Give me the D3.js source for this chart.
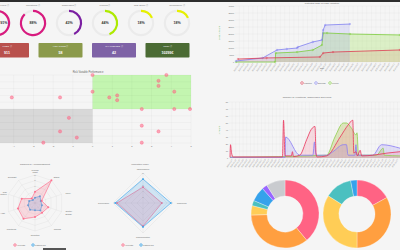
<!DOCTYPE html>
<html><head><meta charset="utf-8">
<script src="https://cdn.jsdelivr.net/npm/d3@7"></script>
<style>
body{margin:0;background:#f5f5f5;overflow:hidden}
svg{display:block;font-family:"Liberation Sans",Arial,sans-serif}
</style>
</head><body>
<svg width="400" height="250"></svg>
<script>
// ---------------- DATA ----------------
const gaugeLabels = ["Fines", "Conditions", "Challenges", "Policies", "Risk Score", "Compliance"];
const gaugeValues = [91, 88, 43, 44, 18, 18];
const gaugeColors = ["#d81b7f", "#d81b7f", "#7b1fa2", "#aeea00", "#e6f000", "#e6f000"];

const cardLabels = ["Fines", "Violations", "Challenges", "Cost"];
const cardValues = ["911", "58", "42", "10299€"];
const cardColors = ["#b9514d", "#8b9a4b", "#7e62a6", "#4b6b34"];

const scatterX = [0, 3.75, 3.35, 3.35, 0, 4.15, -4.1, -1.65, 0.85, 1.25, 1.25, 2.5, 4.15, 4.95, -1.2, 2.5, -1.65, 3.35, -0.8, -2.5, 2.5];
const scatterY = [5, 5, 4.15, 3.4, 2.55, 2.55, 1.7, 1.7, 1.7, 2.0, 1.3, 0, 0, 0, -1.3, -2.45, -3.3, -3.3, -4.2, -4.95, -4.95];
const scatterTicks = [-4, -3, -2, -1, 0, 1, 2, 3, 4, 5];

const lossSeriesNames = ["Liabilities", "Earnings", "Policies"];
const lossLiabilities = [["2019-01-04", 2100], ["2019-02-17", 2900], ["2019-05-10", 3600], ["2019-05-15", 6400], ["2019-05-30", 7100], ["2019-09-10", 8600]];
const lossEarnings = [["2019-01-01", 700], ["2019-02-11", 2900], ["2019-03-05", 8600], ["2019-03-20", 9300], ["2019-04-05", 10000], ["2019-04-06", 10700], ["2019-04-29", 14300], ["2019-05-13", 15700], ["2019-05-15", 22900], ["2019-05-18", 26400], ["2019-06-25", 27100]];
const lossPolicies = [["2019-01-01", 0], ["2019-03-02", 0], ["2019-03-03", 6400], ["2019-04-05", 7100], ["2019-04-29", 8600], ["2019-05-13", 12100], ["2019-05-15", 20700], ["2019-05-21", 20700], ["2019-06-25", 20000], ["2019-09-10", 19300]];
const lossTicks = [0, 5000, 10000, 15000, 20000, 25000, 30000, 35000, 40000];

const vioSeriesNames = ["Violations", "Challenges", "Fines"];
const vioViolations = [["2020-01-01", 1], ["2020-01-02", 19], ["2020-01-04", 7], ["2020-01-07", 1.5], ["2020-04-10", 1.5], ["2020-04-12", 54], ["2020-04-15", 3], ["2020-04-27", 3], ["2020-04-29", 9], ["2020-05-01", 2], ["2020-05-13", 4], ["2020-05-26", 26], ["2020-06-04", 41], ["2020-06-11", 45], ["2020-06-13", 7], ["2020-06-15", 1.5], ["2020-07-03", 3], ["2020-07-29", 30], ["2020-08-13", 47], ["2020-08-22", 54], ["2020-08-24", 7], ["2020-08-28", 9], ["2020-08-31", 3], ["2020-09-05", 11], ["2020-09-08", 3], ["2020-09-29", 4], ["2020-10-26", 7], ["2020-11-20", 9]];
const vioChallenges = [["2020-01-01", 1], ["2020-04-15", 1], ["2020-04-16", 30], ["2020-05-13", 4], ["2020-06-07", 4], ["2020-06-10", 23], ["2020-06-13", 4], ["2020-07-03", 4], ["2020-07-15", 9], ["2020-08-04", 19], ["2020-08-10", 19], ["2020-08-13", 4], ["2020-08-26", 4], ["2020-08-28", 19], ["2020-08-30", 4], ["2020-09-29", 4], ["2020-10-16", 19], ["2020-11-20", 14]];
const vioFines = [["2020-01-01", 1], ["2020-07-03", 4], ["2020-07-19", 30], ["2020-08-04", 50], ["2020-08-10", 50], ["2020-08-20", 42], ["2020-08-28", 33], ["2020-08-30", 36], ["2020-09-02", 4], ["2020-10-06", 4], ["2020-10-19", 14], ["2020-10-21", 4], ["2020-11-20", 3]];
const vioTicks = [0, 10, 20, 30, 40, 50, 60, 70, 80];

const radar1Labels = ["Process Mgmt", "Ethics", "Policy", "Control Design", "Training", "Reporting", "Monitoring", "Audit", "Risk Culture", "Oversight"];
const radar1You = [4, 10, 2.5, 5, 4.3, 5, 7, 6.4, 5, 2];
const radar1Avg = [1.9, 3, 2.2, 2.6, 3.3, 2.6, 3, 2.6, 2.2, 1.3];
const radar2Labels = ["Independence", "Resources", "Communication", "Governance"];
const radar2You = [5.3, 6.3, 7.7, 8.7];
const radar2Avg = [8, 9.3, 8, 9.3];
const radarLegend = ["Your data", "Platform avg"];

const donut1Values = [39, 35.5, 4.5, 2.5, 7, 2.5, 9];
const donut2Values = [17, 33, 34, 13, 3];
const donutColors = ["#ff6384", "#ff9f40", "#ffcd56", "#4bc0c0", "#36a2eb", "#9966ff", "#c9cbcf"];

// ---------------- DRAW ----------------
const svg = d3.select("svg");
const txt = "#666";
svg.append("rect").attr("width", 400).attr("height", 250).attr("fill", "#f5f5f5");
svg.append("rect").attr("width", 400).attr("height", 2).attr("fill", "#2d2d2d");

// keep a text inside the picture horizontally
function clampX(sel) {
  sel.each(function () {
    const b = this.getBBox();
    if (b.x < 0.3) {
      const cur = +this.getAttribute("x") || 0;
      this.setAttribute("x", cur + (0.3 - b.x));
    }
  });
}

// Gauges
const gx = d3.scaleLinear().domain([0, 1]).range([-3, 33]);
const gAngle = d3.scaleLinear().domain([0, 100]).range([0, 2 * Math.PI]);
const gArc = d3.arc().innerRadius(11).outerRadius(13.2);
gaugeValues.forEach((v, i) => {
  const g = svg.append("g").attr("transform", `translate(${gx(i)},23)`);
  g.append("path").attr("d", gArc({startAngle: 0, endAngle: 2 * Math.PI})).attr("fill", "#ebebeb");
  g.append("path").attr("d", gArc({startAngle: 0, endAngle: gAngle(v)})).attr("fill", gaugeColors[i]);
  const t = svg.append("text").attr("x", gx(i)).attr("y", 24.3).attr("text-anchor", "middle").attr("font-size", 3.6)
    .attr("font-weight", "bold").attr("fill", "#333").text(v + "%");
  const l = svg.append("text").attr("x", gx(i)).attr("y", 6).attr("text-anchor", "middle").attr("font-size", 2.4)
    .attr("fill", "#777").text(gaugeLabels[i] + " ⓘ");
  clampX(t); clampX(l);
});

// Cards
const cx = d3.scaleLinear().domain([0, 1]).range([-15, 38.5]);
cardValues.forEach((v, i) => {
  const x0 = cx(i);
  svg.append("rect").attr("x", x0).attr("y", 43).attr("width", 44).attr("height", 14.5).attr("rx", 0.8)
    .attr("fill", cardColors[i]);
  svg.append("text").attr("x", x0 + 22).attr("y", 47).attr("text-anchor", "middle").attr("font-size", 2.2)
    .attr("fill", "#f0f0f0").text(cardLabels[i].toUpperCase() + " ⓘ");
  svg.append("text").attr("x", x0 + 22).attr("y", 53.5).attr("text-anchor", "middle").attr("font-size", 3.6)
    .attr("font-weight", "bold").attr("fill", "#fff").text(v);
});

// Scatter
const sx = d3.scaleLinear().domain([-4.7, 5]).range([0, 191]);
const sy = d3.scaleLinear().domain([-5, 5]).range([143, 75]);
svg.append("text").attr("x", 88).attr("y", 73).attr("text-anchor", "middle").attr("font-size", 2.6)
  .attr("fill", txt).text("Risk Variable Performance");
svg.append("rect").attr("x", sx(-4.7)).attr("y", sy(0)).attr("width", sx(0) - sx(-4.7)).attr("height", sy(-5) - sy(0))
  .attr("fill", "#d8d8d8");
svg.append("rect").attr("x", sx(0)).attr("y", sy(5)).attr("width", sx(5) - sx(0)).attr("height", sy(0) - sy(5))
  .attr("fill", "#c3f5b0");
const sgrid = svg.append("g");
sgrid.selectAll("line.v").data(scatterTicks).join("line").attr("x1", d => sx(d)).attr("x2", d => sx(d))
  .attr("y1", sy(5)).attr("y2", sy(-5) + 1.5).attr("stroke", "rgba(0,0,0,0.08)").attr("stroke-width", 0.4);
sgrid.selectAll("line.h").data(d3.range(-5, 6)).join("line").attr("x1", 0).attr("x2", sx(5))
  .attr("y1", d => sy(d)).attr("y2", d => sy(d)).attr("stroke", "rgba(0,0,0,0.08)").attr("stroke-width", 0.4);
svg.append("g").selectAll("text").data(scatterTicks).join("text").attr("x", d => sx(d)).attr("y", 147)
  .attr("text-anchor", "middle").attr("font-size", 2.2).attr("fill", txt).text(d => d);
svg.append("g").selectAll("circle").data(scatterX).join("circle")
  .attr("cx", d => sx(d)).attr("cy", (d, i) => sy(scatterY[i])).attr("r", 1.6)
  .attr("fill", "rgba(255,99,132,0.55)").attr("stroke", "#ff6384").attr("stroke-width", 0.4);

// Line chart helper
function lineChart(opt) {
  const x = d3.scaleTime().domain(opt.xDomain.map(d => new Date(d))).range(opt.xRange);
  const y = d3.scaleLinear().domain(opt.yDomain).range(opt.yRange);
  const g = svg.append("g");
  const xt = x.ticks(d3.timeWeek.every(1));
  g.selectAll("line.v").data(xt).join("line").attr("x1", d => x(d)).attr("x2", d => x(d))
    .attr("y1", opt.yRange[1]).attr("y2", opt.yRange[0] + 1).attr("stroke", "rgba(0,0,0,0.07)").attr("stroke-width", 0.35);
  g.selectAll("line.h").data(opt.yTicks).join("line").attr("x1", opt.xRange[0] - 1).attr("x2", 400)
    .attr("y1", d => y(d)).attr("y2", d => y(d)).attr("stroke", "rgba(0,0,0,0.07)").attr("stroke-width", 0.35);
  g.selectAll("text.y").data(opt.yTicks).join("text").attr("x", opt.xRange[0] - 2).attr("y", d => y(d) + 0.7)
    .attr("text-anchor", "end").attr("font-size", 2).attr("fill", txt).text(d => d);
  const fmt = d3.timeFormat("%Y-%m-%d");
  g.selectAll("text.x").data(xt).join("text")
    .attr("transform", d => `translate(${x(d) + 0.6},${opt.yRange[0] + 2}) rotate(-55)`)
    .attr("text-anchor", "end").attr("font-size", 1.8).attr("fill", txt).text(d => fmt(d));
  svg.append("text").attr("transform", `translate(${opt.yLabelX},${opt.yLabelY}) rotate(-90)`)
    .attr("text-anchor", "middle").attr("font-size", 2.4).attr("fill", "#4caf50").text(opt.yLabel);
  svg.append("text").attr("x", opt.titleX).attr("y", opt.titleY).attr("text-anchor", "middle")
    .attr("font-size", 2.5).attr("fill", txt).text(opt.title);
  opt.series.forEach(s => {
    const pts = s.data.map(d => [new Date(d[0]), d[1]]);
    const area = d3.area().x(d => x(d[0])).y0(y(0)).y1(d => y(d[1])).curve(opt.curve);
    g.append("path").attr("d", area(pts)).attr("fill", s.fill);
  });
  opt.series.forEach(s => {
    const pts = s.data.map(d => [new Date(d[0]), d[1]]);
    const line = d3.line().x(d => x(d[0])).y(d => y(d[1])).curve(opt.curve);
    g.append("path").attr("d", line(pts)).attr("fill", "none").attr("stroke", s.color).attr("stroke-width", 0.8);
    if (opt.points) g.selectAll(null).data(pts).join("circle").attr("cx", d => x(d[0])).attr("cy", d => y(d[1]))
      .attr("r", 0.8).attr("fill", s.fill).attr("stroke", s.color).attr("stroke-width", 0.4);
  });
  return {x, y};
}

lineChart({
  xDomain: ["2019-01-01", "2019-09-10"], xRange: [236, 400],
  yDomain: [0, 40000], yRange: [62, 6], yTicks: lossTicks,
  yLabel: "Loss Amount", yLabelX: 220, yLabelY: 33,
  title: "Potential Risk of Loss Variation", titleX: 322, titleY: 3.8,
  curve: d3.curveLinear, points: true,
  series: [
    {data: lossPolicies, color: "#7ccc3c", fill: "rgba(160,225,90,0.3)"},
    {data: lossEarnings, color: "#8080f0", fill: "rgba(140,140,250,0.18)"},
    {data: lossLiabilities, color: "#dd3b52", fill: "rgba(220,110,90,0.15)"}
  ]
});
svg.append("text").attr("x", 322).attr("y", 69).attr("text-anchor", "middle").attr("font-size", 2).attr("fill", txt).text("Date");
const lossLegendColors = ["#dd3b52", "#8080f0", "#7ccc3c"];
const lossLegendX = d3.scaleLinear().domain([0, 1]).range([302, 316]);
lossSeriesNames.forEach((n, i) => {
  svg.append("circle").attr("cx", lossLegendX(i)).attr("cy", 83).attr("r", 1.3).attr("fill", "rgba(255,255,255,0.6)")
    .attr("stroke", lossLegendColors[i]).attr("stroke-width", 0.6);
  svg.append("text").attr("x", lossLegendX(i) + 2).attr("y", 83.7).attr("font-size", 1.9).attr("fill", txt).text(n);
});

lineChart({
  xDomain: ["2020-01-01", "2020-11-20"], xRange: [230, 400],
  yDomain: [0, 80], yRange: [158, 102], yTicks: vioTicks,
  yLabel: "Amount", yLabelX: 220, yLabelY: 130,
  title: "Number of Violations, Challenges and Fines", titleX: 307, titleY: 97.5,
  curve: d3.curveMonotoneX, points: false,
  series: [
    {data: vioFines, color: "#8fd14f", fill: "rgba(170,190,60,0.3)"},
    {data: vioChallenges, color: "#8a7cf5", fill: "rgba(140,125,245,0.2)"},
    {data: vioViolations, color: "#e8335a", fill: "rgba(255,99,132,0.18)"}
  ]
});

// Radar helper
function radar(opt) {
  const n = opt.labels.length;
  const r = d3.scaleLinear().domain([0, 10]).range([0, opt.radius]);
  const g = svg.append("g").attr("transform", `translate(${opt.cx},${opt.cy})`);
  const ang = i => i * 2 * Math.PI / n;
  const rl = d3.lineRadial().angle((d, i) => ang(i)).radius(d => r(d)).curve(d3.curveLinearClosed);
  opt.levels.forEach(l => {
    g.append("path").attr("d", rl(opt.labels.map(() => l))).attr("fill", "none")
      .attr("stroke", "rgba(0,0,0,0.1)").attr("stroke-width", 0.35);
  });
  opt.labels.forEach((lab, i) => {
    const a = ang(i);
    g.append("line").attr("x2", r(10) * Math.sin(a)).attr("y2", -r(10) * Math.cos(a))
      .attr("stroke", "rgba(0,0,0,0.1)").attr("stroke-width", 0.35);
    const lx = opt.cx + (r(10) + 4) * Math.sin(a), ly = opt.cy - (r(10) + 4) * Math.cos(a);
    const anchor = Math.abs(Math.sin(a)) < 0.2 ? "middle" : (Math.sin(a) > 0 ? "start" : "end");
    const words = lab.split(" ");
    const t = svg.append("text").attr("x", lx).attr("y", ly + 0.7 - (words.length - 1) * 1.1).attr("text-anchor", anchor)
      .attr("font-size", 2).attr("fill", txt);
    words.forEach((w, k) => t.append("tspan").attr("x", lx).attr("dy", k ? 2.2 : 0).text(w));
    t.each(function () {
      const b = this.getBBox();
      if (b.x < 0.3) {
        const dx = 0.3 - b.x;
        d3.select(this).selectAll("tspan").attr("x", lx + dx);
      }
    });
  });
  opt.levels.forEach(l => {
    g.append("text").attr("x", 0).attr("y", -r(l) + 0.6).attr("text-anchor", "middle")
      .attr("font-size", 1.6).attr("fill", "#888").text(l);
  });
  const sets = [{v: opt.avg, c: "#36a2eb", f: "rgba(54,162,235,0.2)"}, {v: opt.you, c: "#ff6384", f: "rgba(255,99,132,0.2)"}];
  if (opt.youFirst) sets.reverse();
  sets.forEach(s => {
    g.append("path").attr("d", rl(s.v)).attr("fill", s.f).attr("stroke", s.c).attr("stroke-width", 0.6);
    g.selectAll(null).data(s.v).join("circle").attr("cx", (d, i) => r(d) * Math.sin(ang(i)))
      .attr("cy", (d, i) => -r(d) * Math.cos(ang(i))).attr("r", 1).attr("fill", s.c).attr("fill-opacity", 0.8);
  });
  svg.append("text").attr("x", opt.titleX).attr("y", 164.5).attr("text-anchor", "middle").attr("font-size", 2.4)
    .attr("fill", txt).text(opt.title);
  const leg = [["#ff6384", "rgba(255,99,132,0.25)"], ["#36a2eb", "rgba(54,162,235,0.25)"]];
  radarLegend.forEach((name, i) => {
    const lx = opt.legendX[i];
    svg.append("circle").attr("cx", lx).attr("cy", 245).attr("r", 1.3).attr("fill", leg[i][1])
      .attr("stroke", leg[i][0]).attr("stroke-width", 0.6);
    svg.append("text").attr("x", lx + 2).attr("y", 245.7).attr("font-size", 1.9).attr("fill", txt).text(name);
  });
}

radar({labels: radar1Labels, you: radar1You, avg: radar1Avg, cx: 35, cy: 203, radius: 28,
  levels: [2, 4, 6, 8, 10], title: "Ranking by Accomplishment", titleX: 35, legendX: [15, 33]});
radar({labels: radar2Labels, you: radar2You, avg: radar2Avg, cx: 143, cy: 203, radius: 30,
  levels: [2, 4, 6, 8, 10], title: "Innovation Index", titleX: 140, legendX: [123, 141], youFirst: true});

svg.append("rect").attr("x", 43).attr("y", 248).attr("width", 23).attr("height", 2).attr("fill", "#555");

// Donuts
function donut(vals, cxp) {
  const pie = d3.pie().sort(null).value(d => d);
  const arc = d3.arc().innerRadius(18).outerRadius(34);
  svg.append("g").attr("transform", `translate(${cxp},214)`).selectAll("path").data(pie(vals)).join("path")
    .attr("d", arc).attr("fill", (d, i) => donutColors[i]).attr("stroke", "#fff").attr("stroke-width", 0.3);
}
donut(donut1Values, 285);
donut(donut2Values, 357);
</script>
</body></html>
